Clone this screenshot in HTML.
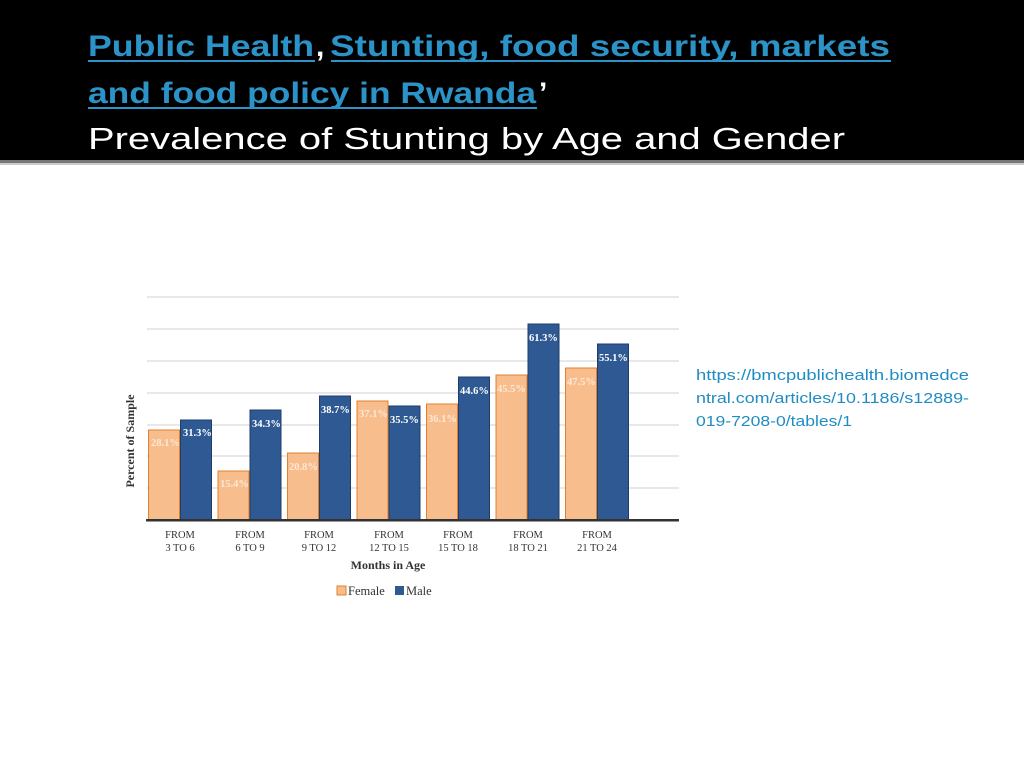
<!DOCTYPE html>
<html><head><meta charset="utf-8"><style>
body{margin:0;background:#fff}
svg{display:block}
</style></head><body>
<svg width="1024" height="768" viewBox="0 0 1024 768" xmlns="http://www.w3.org/2000/svg">
<rect x="0" y="0" width="1024" height="160" fill="#000"/>
<rect x="0" y="160" width="1024" height="3" fill="#777"/>
<rect x="0" y="163" width="1024" height="2" fill="#ccc"/>
<g font-family="Liberation Sans, sans-serif" font-weight="bold" font-size="30" fill="#2b93c8">
<text x="88" y="56" textLength="226" lengthAdjust="spacingAndGlyphs">Public Health</text>
<text x="316" y="56" fill="#fff">,</text>
<text x="330" y="56" textLength="560" lengthAdjust="spacingAndGlyphs">Stunting, food security, markets</text>
<text x="88" y="103" textLength="448" lengthAdjust="spacingAndGlyphs">and food policy in Rwanda</text>
<text x="539" y="103" fill="#fff">’</text>
</g>
<rect x="88" y="60" width="227" height="2" fill="#2b93c8"/>
<rect x="331" y="60" width="560" height="2" fill="#2b93c8"/>
<rect x="88" y="107" width="449" height="2" fill="#2b93c8"/>
<text x="88" y="149" font-family="Liberation Sans, sans-serif" font-size="31" fill="#fff" textLength="757" lengthAdjust="spacingAndGlyphs">Prevalence of Stunting by Age and Gender</text>

<g stroke="#d9d9d9" stroke-width="1.2">
<line x1="147" y1="297" x2="679" y2="297"/><line x1="147" y1="329" x2="679" y2="329"/>
<line x1="147" y1="361" x2="679" y2="361"/><line x1="147" y1="393" x2="679" y2="393"/>
<line x1="147" y1="425" x2="679" y2="425"/><line x1="147" y1="456" x2="679" y2="456"/>
<line x1="147" y1="488" x2="679" y2="488"/>
</g>
<g font-family="Liberation Serif, serif" font-weight="bold" font-size="10.5" fill="#fff">
<!-- groups -->
<rect x="148.5" y="430" width="31" height="90" fill="#f8bd8c" stroke="#e2802e"/><text x="151" y="446" fill="#fde8d6">28.1%</text>
<rect x="180.5" y="420" width="31" height="100" fill="#2e5993" stroke="#1e3d6b"/><text x="183" y="436">31.3%</text>
<rect x="218" y="471" width="31" height="49" fill="#f8bd8c" stroke="#e2802e"/><text x="220" y="487" fill="#fde8d6">15.4%</text>
<rect x="250" y="410" width="31" height="110" fill="#2e5993" stroke="#1e3d6b"/><text x="252" y="427">34.3%</text>
<rect x="287.5" y="453" width="31" height="67" fill="#f8bd8c" stroke="#e2802e"/><text x="289" y="470" fill="#fde8d6">20.8%</text>
<rect x="319.5" y="396" width="31" height="124" fill="#2e5993" stroke="#1e3d6b"/><text x="321" y="413">38.7%</text>
<rect x="357" y="401" width="31" height="119" fill="#f8bd8c" stroke="#e2802e"/><text x="359" y="417" fill="#fde8d6">37.1%</text>
<rect x="389" y="406" width="31" height="114" fill="#2e5993" stroke="#1e3d6b"/><text x="390" y="423">35.5%</text>
<rect x="426.5" y="404" width="31" height="116" fill="#f8bd8c" stroke="#e2802e"/><text x="428" y="422" fill="#fde8d6">36.1%</text>
<rect x="458.5" y="377" width="31" height="143" fill="#2e5993" stroke="#1e3d6b"/><text x="460" y="394">44.6%</text>
<rect x="496" y="375" width="31" height="145" fill="#f8bd8c" stroke="#e2802e"/><text x="497" y="392" fill="#fde8d6">45.5%</text>
<rect x="528" y="324" width="31" height="196" fill="#2e5993" stroke="#1e3d6b"/><text x="529" y="341">61.3%</text>
<rect x="565.5" y="368" width="31" height="152" fill="#f8bd8c" stroke="#e2802e"/><text x="567" y="385" fill="#fde8d6">47.5%</text>
<rect x="597.5" y="344" width="31" height="176" fill="#2e5993" stroke="#1e3d6b"/><text x="599" y="361">55.1%</text>
</g>
<rect x="146" y="519" width="533" height="2.5" fill="#333"/>
<g font-family="Liberation Serif, serif" font-size="10.5" fill="#333" text-anchor="middle">
<text x="180" y="538">FROM</text><text x="180" y="551">3 TO 6</text>
<text x="250" y="538">FROM</text><text x="250" y="551">6 TO 9</text>
<text x="319" y="538">FROM</text><text x="319" y="551">9 TO 12</text>
<text x="389" y="538">FROM</text><text x="389" y="551">12 TO 15</text>
<text x="458" y="538">FROM</text><text x="458" y="551">15 TO 18</text>
<text x="528" y="538">FROM</text><text x="528" y="551">18 TO 21</text>
<text x="597" y="538">FROM</text><text x="597" y="551">21 TO 24</text>
<text x="388" y="569" font-weight="bold" font-size="12">Months in Age</text>
</g>
<text transform="translate(134,441) rotate(-90)" text-anchor="middle" font-family="Liberation Serif, serif" font-weight="bold" font-size="12" fill="#333">Percent of Sample</text>
<rect x="337" y="586" width="9" height="9" fill="#f8bd8c" stroke="#e2802e"/>
<text x="348" y="595" font-family="Liberation Serif, serif" font-size="12.5" fill="#333">Female</text>
<rect x="395" y="586" width="9" height="9" fill="#2e5993"/>
<text x="406" y="595" font-family="Liberation Serif, serif" font-size="12.5" fill="#333">Male</text>

<g font-family="Liberation Sans, sans-serif" font-size="14.5" fill="#1f8cc4">
<text x="696" y="380" textLength="273" lengthAdjust="spacingAndGlyphs">https://bmcpublichealth.biomedce</text>
<text x="696" y="403" textLength="273" lengthAdjust="spacingAndGlyphs">ntral.com/articles/10.1186/s12889-</text>
<text x="696" y="426" textLength="156" lengthAdjust="spacingAndGlyphs">019-7208-0/tables/1</text>
</g>
</svg>
</body></html>
